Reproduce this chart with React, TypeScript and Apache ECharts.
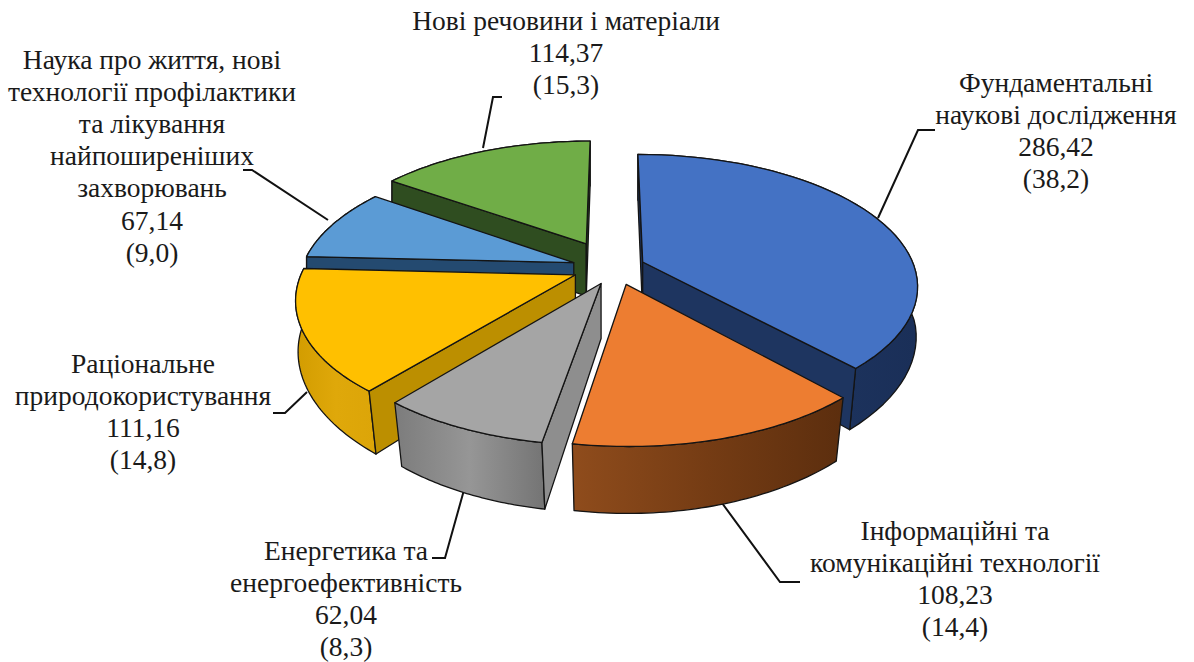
import React, { useEffect, useRef } from "react";
import * as echarts from "echarts";

const labelLines = [
  ["Фундаментальні", "наукові дослідження"],
  ["Інформаційні та", "комунікаційні технології"],
  ["Енергетика та", "енергоефективність"],
  ["Раціональне", "природокористування"],
  ["Наука про життя, нові", "технології профілактики", "та лікування", "найпоширеніших", "захворювань"],
  ["Нові речовини і матеріали"],
];
const valueLabels = ["286,42", "108,23", "62,04", "111,16", "67,14", "114,37"];
const shareLabels = ["(38,2)", "(14,4)", "(8,3)", "(14,8)", "(9,0)", "(15,3)"];
const values = [286.42, 108.23, 62.04, 111.16, 67.14, 114.37];
const explosion = [0.13, 0.13, 0.13, 0.13, 0.13, 0.22];
const topColors = ["#4472C4", "#ED7D31", "#A5A5A5", "#FFC000", "#5B9BD5", "#70AD47"];
const cutColors = ["#1E3560", "#7A3E12", "#8E8E8E", "#BC8F00", "#244A70", "#2F4D20"];
const wallLeft = ["#1E3560", "#8F4C1C", "#7C7C7C", "#D29C00", "#244A70", "#2F4D20"];
const wallMid = ["#1E3560", "#753C14", "#969696", "#DFA80A", "#244A70", "#2F4D20"];
const wallRight = ["#1A2F58", "#5C2E0E", "#747474", "#DCA508", "#244A70", "#2F4D20"];
const drawOrder = [5, 4, 3, 0, 2, 1];

const sliceShift = [0, 6, 6, -2, -3, 3];
const labelPos = [
  { x: 1056, y: 66 },
  { x: 955, y: 514 },
  { x: 346, y: 534 },
  { x: 143, y: 347 },
  { x: 152, y: 43 },
  { x: 566, y: 4 },
];
const leaders = [
  [[878, 218], [918, 130], [935, 130]],
  [[722, 503], [780, 582], [800, 582]],
  [[464, 490], [445, 558], [432, 558]],
  [[307, 392], [285, 413], [273, 413]],
  [[328, 220], [252, 170], [243, 170]],
  [[483, 148], [493, 97], [502, 97]],
];

const CX = 610, CY = 268, RX = 272, RY = 128, K = 0.172, DEPTH = 54, CONVERGE = 0.035;
const total = values.reduce((a, b) => a + b, 0);
const starts: number[] = [];
values.reduce((acc, v, i) => {
  starts[i] = (acc / total) * Math.PI * 2;
  return acc + v;
}, 0);

function project(px: number, py: number, down: boolean, shift: number): number[] {
  const s = 1 / (1 + K * py);
  const conv = down ? 1 + CONVERGE * Math.min(py, 0) : 1;
  const x = RX * px * s * conv;
  return [CX + shift + x, CY - RY * py * s + (down ? DEPTH * s : 0)];
}
function area(p: number[][]) {
  let a = 0;
  p.forEach((q, i) => {
    const r = p[(i + 1) % p.length];
    a += q[0] * r[1] - r[0] * q[1];
  });
  return a / 2;
}

function renderSlice(params: any, api: any) {
  const i = drawOrder[params.dataIndex];
  const a0 = starts[i];
  const a1 = a0 + (api.value(0) / total) * Math.PI * 2;
  const am = (a0 + a1) / 2;
  const ax = explosion[i] * Math.sin(am);
  const ay = explosion[i] * Math.cos(am);
  const sh = sliceShift[i];
  const n = 48;
  const topArc: number[][] = [];
  const botArc: number[][] = [];
  for (let k = 0; k <= n; k++) {
    const t = a0 + ((a1 - a0) * k) / n;
    topArc.push(project(ax + Math.sin(t), ay + Math.cos(t), false, sh));
    botArc.push(project(ax + Math.sin(t), ay + Math.cos(t), true, sh));
  }
  const apexT = project(ax, ay, false, sh);
  const apexB = project(ax, ay, true, sh);
  const lineStyle = { stroke: "#141414", lineWidth: 1.3, lineJoin: "round" };
  const children: any[] = [];
  const wallPts = [...topArc, ...botArc.slice().reverse()];
  children.push({
    type: "polygon",
    shape: { points: wallPts },
    style: {
      fill: new echarts.graphic.LinearGradient(0, 0, 1, 0, [
        { offset: 0, color: wallLeft[i] },
        { offset: 0.5, color: wallMid[i] },
        { offset: 1, color: wallRight[i] },
      ]),
      ...lineStyle,
    },
  });
  const startCut = [apexT, topArc[0], botArc[0], apexB];
  const endCut = [apexT, apexB, botArc[n], topArc[n]];
  // a cut face is drawn only when it looks towards the viewer
  if (area(startCut) < 0) children.push({ type: "polygon", shape: { points: startCut }, style: { fill: cutColors[i], ...lineStyle } });
  if (area(endCut) < 0) children.push({ type: "polygon", shape: { points: endCut }, style: { fill: cutColors[i], ...lineStyle } });
  children.push({
    type: "polygon",
    shape: { points: [apexT, ...topArc] },
    style: { fill: topColors[i], ...lineStyle },
  });
  return { type: "group", children };
}

export default function App() {
  const ref = useRef<HTMLDivElement>(null);
  useEffect(() => {
    const chart = echarts.init(ref.current!, undefined, { renderer: "svg" });
    const font = '"Liberation Serif", serif';
    const texts = labelLines.map((lines, i) => ({
      type: "text",
      x: labelPos[i].x,
      y: labelPos[i].y,
      style: {
        text: [...lines, valueLabels[i], shareLabels[i]].join("\n"),
        font: `27.5px ${font}`,
        lineHeight: 32.2,
        fill: "#1a1a1a",
        align: "center",
        verticalAlign: "top",
      },
    }));
    const lines = leaders.map((pts) => ({
      type: "polyline",
      shape: { points: pts },
      style: { stroke: "#111", lineWidth: 2, fill: "none" },
      z: 5,
    }));
    chart.setOption({
      animation: false,
      backgroundColor: "#fff",
      series: [
        {
          type: "custom",
          coordinateSystem: "none",
          renderItem: renderSlice,
          data: drawOrder.map((i) => [values[i]]),
          silent: true,
          z: 10,
        },
      ],
      graphic: [...lines, ...texts],
    });
    return () => chart.dispose();
  }, []);
  return <div ref={ref} style={{ position: "absolute", left: 0, top: 0, width: 1194, height: 662 }} />;
}
